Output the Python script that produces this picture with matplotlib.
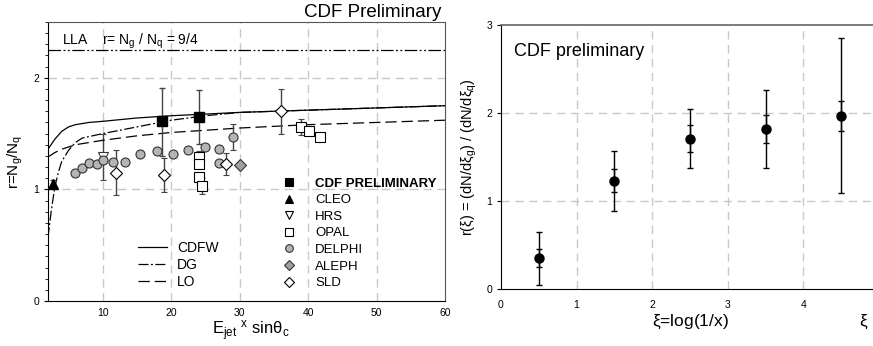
import numpy as np
import matplotlib.pyplot as plt
from matplotlib.lines import Line2D

plt.rcParams['font.family'] = ['Liberation Sans', 'DejaVu Sans']
plt.rcParams['mathtext.fontset'] = 'custom'
plt.rcParams['mathtext.rm'] = 'Liberation Sans'
plt.rcParams['mathtext.it'] = 'Liberation Sans'

# ---- left panel: theory curves ----
cdfw_x = [2, 3, 4, 5, 6, 8, 10, 15, 20, 30, 40, 50, 60]
cdfw_y = [1.36, 1.45, 1.52, 1.56, 1.58, 1.60, 1.61, 1.64, 1.66, 1.69, 1.71, 1.73, 1.75]
dg_x = [2, 2.5, 3, 3.5, 4, 5, 6, 7, 10, 15, 20, 25, 30, 40, 50, 60]
dg_y = [0.57, 0.82, 1.02, 1.15, 1.25, 1.35, 1.42, 1.46, 1.50, 1.56, 1.62, 1.66, 1.69, 1.71, 1.73, 1.75]
lo_x = [2, 3, 4, 5, 6, 8, 10, 15, 20, 30, 40, 50, 60]
lo_y = [1.29, 1.33, 1.36, 1.38, 1.40, 1.42, 1.44, 1.48, 1.51, 1.55, 1.58, 1.60, 1.62]
lla_r = 9 / 4

# ---- left panel: measurements ----
cdf_x = [18.6, 24.0]
cdf_y = [1.61, 1.65]
cdf_elo = [0.31, 0.24]
cdf_ehi = [0.30, 0.24]

cleo_x = [2.7]
cleo_y = [1.05]
cleo_e = [0.03]

hrs_x = [10.0]
hrs_y = [1.29]
hrs_e = [0.21]

opal_x = [24.0, 24.0, 24.0, 24.5, 39.0, 40.1, 41.8]
opal_y = [1.29, 1.23, 1.11, 1.03, 1.56, 1.52, 1.47]
opal_e = [0.05, 0.03, 0.02, 0.07, 0.07, 0.02, 0.03]

delphi_x = [5.9, 6.9, 8.0, 9.1, 10.1, 11.5, 13.2, 15.5, 17.9, 20.2, 22.4, 25.0, 27.0, 27.0, 29.0]
delphi_y = [1.15, 1.19, 1.24, 1.23, 1.26, 1.25, 1.25, 1.32, 1.34, 1.32, 1.35, 1.38, 1.36, 1.24, 1.47]
delphi_e = [0, 0, 0, 0, 0, 0, 0, 0, 0, 0, 0, 0, 0, 0, 0.12]

aleph_x = [30.0]
aleph_y = [1.22]

sld_x = [12.0, 19.0, 28.0, 36.0]
sld_y = [1.15, 1.13, 1.23, 1.70]
sld_e = [0.20, 0.15, 0.10, 0.20]

# ---- right panel ----
xi = [0.5, 1.5, 2.5, 3.5, 4.5]
r_xi = [0.35, 1.23, 1.71, 1.82, 1.97]
tot_lo = [0.05, 0.89, 1.37, 1.38, 1.09]
tot_hi = [0.65, 1.57, 2.05, 2.26, 2.85]
stat_lo = [0.25, 1.10, 1.56, 1.66, 1.80]
stat_hi = [0.45, 1.36, 1.86, 1.98, 2.14]

fig = plt.figure(figsize=(8.73, 3.46), dpi=100)
grid_kw = dict(color='#c8c8c8', linestyle=(0, (6, 4)), linewidth=1.0)

# ================= left =================
ax = fig.add_axes([48/873, 1-301/346, (445-48)/873, (301-22)/346])
ax.set_xlim(2, 60)
ax.set_ylim(0, 2.5)
for v in [10, 20, 30, 40, 50]:
    ax.axvline(v, zorder=0, **grid_kw)
for v in [1, 2]:
    ax.axhline(v, zorder=0, **grid_kw)

ax.axhline(lla_r, color='black', lw=0.9, linestyle=(0, (10, 2, 1.5, 2, 1.5, 2)))
ax.plot(cdfw_x, cdfw_y, color='black', lw=0.9, label='CDFW')
ax.plot(dg_x, dg_y, color='black', lw=0.9, linestyle=(0, (8, 2, 1.5, 2)), label='DG')
ax.plot(lo_x, lo_y, color='black', lw=0.9, linestyle=(0, (9, 4)), label='LO')

eb = dict(ecolor='#444444', elinewidth=1.0, capsize=2.5, capthick=1.0, linestyle='none', ms=6.5)
ax.errorbar(delphi_x, delphi_y, yerr=delphi_e, fmt='o', mfc='#b4b4b4', mec='#333333', mew=0.8, **eb)
ax.errorbar(hrs_x, hrs_y, yerr=hrs_e, fmt='v', mfc='white', mec='#333333', mew=0.8, zorder=1, **eb)
ax.errorbar(opal_x, opal_y, yerr=opal_e, fmt='s', mfc='white', mec='black', mew=0.8, **eb)
ax.errorbar(sld_x, sld_y, yerr=sld_e, fmt='D', mfc='white', mec='black', mew=0.8,
            **{**eb, 'ms': 6})
ax.errorbar(aleph_x, aleph_y, fmt='D', mfc='#a0a0a0', mec='#333333', mew=0.8,
            **{**eb, 'ms': 6})
ax.errorbar(cleo_x, cleo_y, yerr=cleo_e, fmt='^', mfc='black', mec='black', **eb)
ax.errorbar(cdf_x, cdf_y, yerr=[cdf_elo, cdf_ehi], fmt='s', mfc='black', mec='black', **eb)

ax.set_xticks([10, 20, 30, 40, 50, 60])
ax.set_yticks([0, 1, 2])
ax.set_yticks(np.arange(0, 2.51, 0.1), minor=True)
ax.tick_params(axis='both', labelsize=7.5, length=3, width=0.8)
ax.tick_params(axis='y', which='minor', length=2, width=0.6)
ax.tick_params(axis='x', length=0, pad=5)
for s in ['top', 'right']:
    ax.spines[s].set_color('#555555')
ax.set_xlabel(r'E$_{\rm jet}$ $^{\rm x}$ sin$\theta_{\rm c}$', fontsize=12, labelpad=2)
ax.xaxis.set_label_coords(0.51, -0.064, transform=ax.transAxes)
ax.xaxis.label.set_va('top')
ax.set_ylabel(r'r=N$_{\rm g}$/N$_{\rm q}$', fontsize=11, labelpad=6)
ax.text(0.035, 0.965, r'LLA    r= N$_{\rm g}$ / N$_{\rm q}$ = 9/4', transform=ax.transAxes,
        fontsize=10, va='top', ha='left')
ax.text(0.99, 1.005, 'CDF Preliminary', transform=ax.transAxes, fontsize=13.5,
        ha='right', va='bottom')

leg1 = ax.legend(loc='lower left', bbox_to_anchor=(0.195, 0.0), frameon=False, fontsize=10,
                 handlelength=2.1, labelspacing=0.2, handletextpad=0.7)
ax.add_artist(leg1)
mk = dict(linestyle='none', ms=5.5, mew=0.8)
handles = [
    Line2D([], [], marker='s', color='black', **mk),
    Line2D([], [], marker='^', color='black', **mk),
    Line2D([], [], marker='v', mfc='white', mec='black', **mk),
    Line2D([], [], marker='s', mfc='white', mec='black', **mk),
    Line2D([], [], marker='o', mfc='#b4b4b4', mec='#333333', **mk),
    Line2D([], [], marker='D', mfc='#a0a0a0', mec='#333333', **{**mk, 'ms': 5}),
    Line2D([], [], marker='D', mfc='white', mec='black', **{**mk, 'ms': 5}),
]
labels = ['CDF PRELIMINARY', 'CLEO', 'HRS', 'OPAL', 'DELPHI', 'ALEPH', 'SLD']
leg2 = ax.legend(handles, labels, loc='lower left', bbox_to_anchor=(0.56, 0.0), frameon=False,
                 fontsize=9.5, labelspacing=0.33, handletextpad=1.5, handlelength=1.0)
leg2.get_texts()[0].set_fontweight('bold')

# ================= right =================
ax2 = fig.add_axes([501/873, 1-289/346, (873-501)/873, (289-25)/346])
ax2.set_xlim(0, (873-501)/75.6)
ax2.set_ylim(0, 3)
for v in [1, 2, 3, 4]:
    ax2.axvline(v, zorder=0, **grid_kw)
for v in [1, 2]:
    ax2.axhline(v, zorder=0, **grid_kw)

r_arr = np.array(r_xi)
ax2.errorbar(xi, r_xi, yerr=[r_arr - np.array(tot_lo), np.array(tot_hi) - r_arr],
             fmt='none', ecolor='black', elinewidth=1.0, capsize=2.5, capthick=1.0)
ax2.errorbar(xi, r_xi, yerr=[r_arr - np.array(stat_lo), np.array(stat_hi) - r_arr],
             fmt='o', color='black', ms=6.5, elinewidth=1.0, capsize=2.5, capthick=1.0)

ax2.set_xticks([0, 1, 2, 3, 4])
ax2.set_yticks([0, 1, 2, 3])
ax2.tick_params(axis='both', labelsize=7.5, length=3, width=0.8)
ax2.tick_params(axis='x', length=0, pad=8)
ax2.spines['right'].set_visible(False)
ax2.spines['top'].set_color('#666666')
ax2.spines['top'].set_linewidth(1.2)
ax2.set_ylabel(r'r($\xi$) = (dN/d$\xi_{\rm g}$) / (dN/d$\xi_{\rm q}$)', fontsize=10.5, labelpad=5)
ax2.text(0.51, -0.125, r'$\xi$=log(1/x)', transform=ax2.transAxes, fontsize=12.5,
         ha='center', va='center')
ax2.text(0.976, -0.125, r'$\xi$', transform=ax2.transAxes, fontsize=12.5,
         ha='center', va='center')
ax2.text(0.035, 0.93, 'CDF preliminary', transform=ax2.transAxes, fontsize=13,
         ha='left', va='top')

fig.savefig('out.png', dpi=100)
